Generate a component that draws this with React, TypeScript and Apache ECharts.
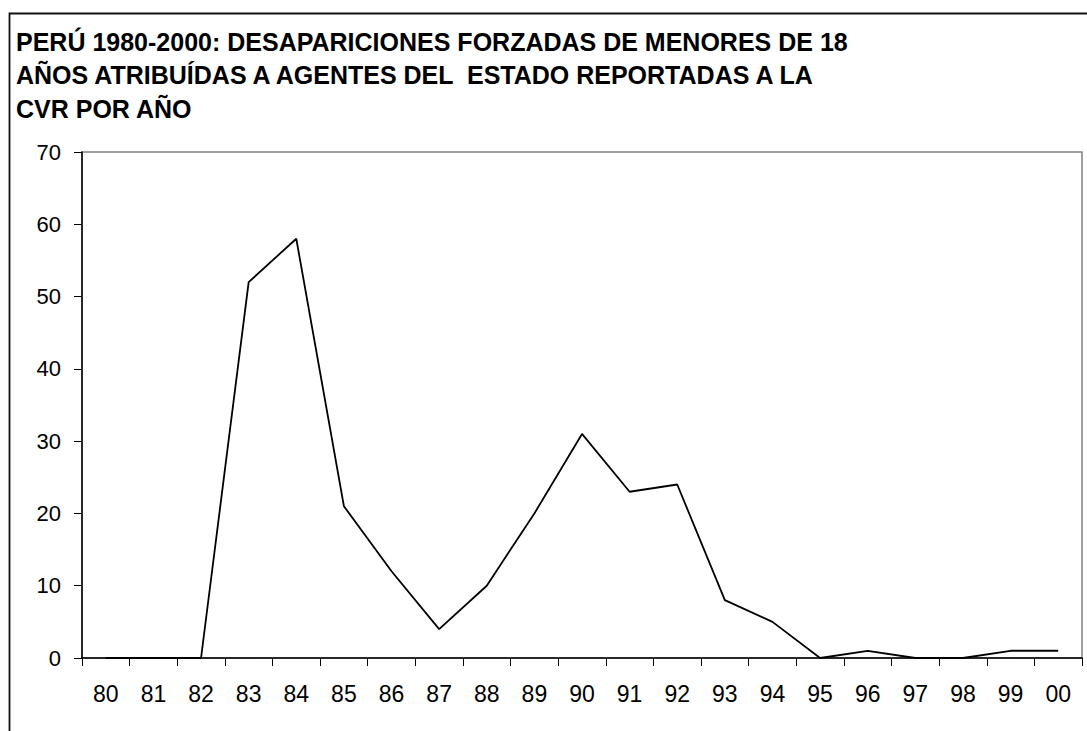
import React, { useEffect, useRef } from "react";
import * as echarts from "echarts";

const titleLines = [
  "PERÚ 1980-2000: DESAPARICIONES FORZADAS DE MENORES DE 18",
  "AÑOS ATRIBUÍDAS A AGENTES DEL  ESTADO REPORTADAS A LA",
  "CVR POR AÑO",
];
const years = ["80", "81", "82", "83", "84", "85", "86", "87", "88", "89", "90", "91", "92", "93", "94", "95", "96", "97", "98", "99", "00"];
const cases = [0, 0, 0, 52, 58, 21, 12, 4, 10, 20, 31, 23, 24, 8, 5, 0, 1, 0, 0, 1, 1];
const yMin = 0;
const yMax = 70;
const yStep = 10;

const FONT = "'Liberation Sans', Arial, sans-serif";

export default function App() {
  const ref = useRef<HTMLDivElement>(null);
  useEffect(() => {
    if (!ref.current) return;
    const chart = echarts.init(ref.current, undefined, { renderer: "svg" });
    chart.setOption({
      animation: false,
      backgroundColor: "#ffffff",
      title: {
        text: titleLines.join("\n"),
        left: 16,
        top: 25,
        padding: 0,
        textStyle: {
          fontFamily: FONT,
          fontSize: 25,
          fontWeight: "bold",
          lineHeight: 33.5,
          color: "#000",
        },
      },
      graphic: [
        {
          type: "rect",
          shape: { x: 9.5, y: 13.5, width: 1200, height: 900 },
          style: { fill: "none", stroke: "#111", lineWidth: 1.8 },
          silent: true,
        },
      ],
      grid: {
        left: 82,
        top: 152,
        right: 5,
        bottom: 73,
        show: true,
        borderColor: "#808080",
        borderWidth: 1.5,
        backgroundColor: "transparent",
      },
      xAxis: {
        type: "category",
        data: years,
        boundaryGap: true,
        axisLine: { show: true, lineStyle: { color: "#000", width: 1.5 } },
        axisTick: { show: true, length: 8, alignWithLabel: false, lineStyle: { color: "#000", width: 1 } },
        axisLabel: { margin: 24, fontFamily: FONT, fontSize: 23, color: "#000" },
        splitLine: { show: false },
      },
      yAxis: {
        type: "value",
        min: yMin,
        max: yMax,
        interval: yStep,
        axisLine: { show: true, lineStyle: { color: "#000", width: 1.5 } },
        axisTick: { show: true, length: 8, lineStyle: { color: "#000", width: 1 } },
        axisLabel: { margin: 21, fontFamily: FONT, fontSize: 22, color: "#000" },
        splitLine: { show: false },
      },
      series: [
        {
          type: "line",
          data: cases,
          showSymbol: false,
          symbol: "none",
          lineStyle: { color: "#000", width: 1.8 },
        },
      ],
    });
    return () => chart.dispose();
  }, []);
  return (
    <div
      ref={ref}
      style={{ position: "absolute", left: 0, top: 0, width: 1087, height: 731 }}
    />
  );
}
